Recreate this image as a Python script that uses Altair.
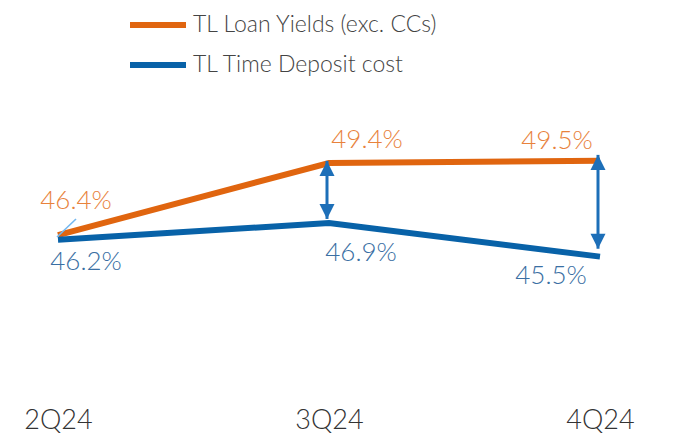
import altair as alt
import pandas as pd

# ---- data ----
quarters = ["2Q24", "3Q24", "4Q24"]
loan_yields = [46.4, 49.4, 49.5]          # TL Loan Yields (exc. CCs), %
deposit_cost = [46.2, 46.9, 45.5]         # TL Time Deposit cost, %
series_names = ["TL Loan Yields (exc. CCs)", "TL Time Deposit cost"]

# spread arrows (annotation end points, in %)
arrow_quarters = ["3Q24", "4Q24"]
arrow_top = [49.49, 49.74]
arrow_bottom = [47.07, 45.83]

# ---- styles ----
ORANGE = "#E0650F"
BLUE = "#0862A8"
ORANGE_TXT = "#E8823C"
BLUE_TXT = "#3A6FA3"
ARROW = "#1D6FB8"
FONT = "Lato"

# label offsets (dx, dy) in pixels per series / quarter
label_offsets = {
    series_names[0]: [(18, -34), (38, -23), (-43, -20)],
    series_names[1]: [(28, 22), (32, 30), (-49, 19)],
}

rows = []
for s, vals in zip(series_names, [loan_yields, deposit_cost]):
    for q, v in zip(quarters, vals):
        rows.append({"series": s, "quarter": q, "value": v})
df = pd.DataFrame(rows)

arrows = pd.DataFrame({"quarter": arrow_quarters, "top": arrow_top, "bottom": arrow_bottom})

xscale = alt.Scale(type="point", domain=quarters, range=[50, 592], padding=0)
yscale = alt.Scale(domain=[39.61, 55.86], nice=False, zero=False)

x_enc = alt.X("quarter:N", scale=xscale, sort=quarters,
              axis=alt.Axis(title=None, domain=False, ticks=False, grid=False,
                            labelAngle=0, labelFontSize=27, labelFont=FONT,
                            labelFontWeight=300, labelColor="#333333",
                            labelPadding=9))

base = alt.Chart(df)

lines = base.mark_line(strokeWidth=6, strokeCap="butt").encode(
    x=x_enc,
    y=alt.Y("value:Q", scale=yscale, axis=None),
    color=alt.Color("series:N",
                    scale=alt.Scale(domain=series_names, range=[ORANGE, BLUE]),
                    sort=series_names,
                    legend=alt.Legend(title=None, orient="none", legendX=133, legendY=0,
                                      symbolType="M-2,0L2,0", symbolSize=784,
                                      symbolStrokeWidth=6, labelFontSize=23,
                                      labelFont=FONT, labelFontWeight=300,
                                      labelColor="#444444", labelOffset=18,
                                      labelLimit=0, rowPadding=11, padding=0)),
)

# small leader line at the first loan-yield label
leader = alt.Chart(df[(df.series == series_names[0]) & (df.quarter == quarters[0])]).mark_point(
    shape="M0,0L1,-0.95", size=1444, filled=False, stroke="#74B8F0",
    strokeWidth=1.6, opacity=1, xOffset=-1, yOffset=2,
).encode(x=alt.X("quarter:N", scale=xscale), y=alt.Y("value:Q", scale=yscale))

shaft = alt.Chart(arrows).mark_rule(color=ARROW, strokeWidth=3, xOffset=-2).encode(
    x=alt.X("quarter:N", scale=xscale),
    y=alt.Y("top:Q", scale=yscale),
    y2="bottom:Q",
)
head_up = alt.Chart(arrows).mark_point(
    shape="M0,0L-0.5,1L0.5,1Z", size=900, filled=True, color=ARROW, opacity=1, xOffset=-2
).encode(x=alt.X("quarter:N", scale=xscale), y=alt.Y("top:Q", scale=yscale))
head_down = alt.Chart(arrows).mark_point(
    shape="M0,0L-0.5,-1L0.5,-1Z", size=900, filled=True, color=ARROW, opacity=1, xOffset=-2
).encode(x=alt.X("quarter:N", scale=xscale), y=alt.Y("bottom:Q", scale=yscale))

layers = [lines, leader, shaft, head_up, head_down]

for s, col in zip(series_names, [ORANGE_TXT, BLUE_TXT]):
    for q, (dx, dy) in zip(quarters, label_offsets[s]):
        sub = df[(df.series == s) & (df.quarter == q)]
        layers.append(
            alt.Chart(sub).transform_calculate(
                lbl="format(datum.value, '.1f') + '%'"
            ).mark_text(dx=dx, dy=dy, fontSize=26, font=FONT, fontWeight=300,
                        color=col, align="center", baseline="middle").encode(
                x=alt.X("quarter:N", scale=xscale),
                y=alt.Y("value:Q", scale=yscale),
                text="lbl:N",
            )
        )

chart = alt.layer(*layers).properties(
    width=658, height=390,
    padding={"left": 0, "top": 0, "right": 0, "bottom": 36},
    autosize=alt.AutoSizeParams(type="none"),
).configure(background="white").configure_view(stroke=None, strokeWidth=0)

chart.save("out.html", embed_options={"renderer": "svg", "actions": False})
